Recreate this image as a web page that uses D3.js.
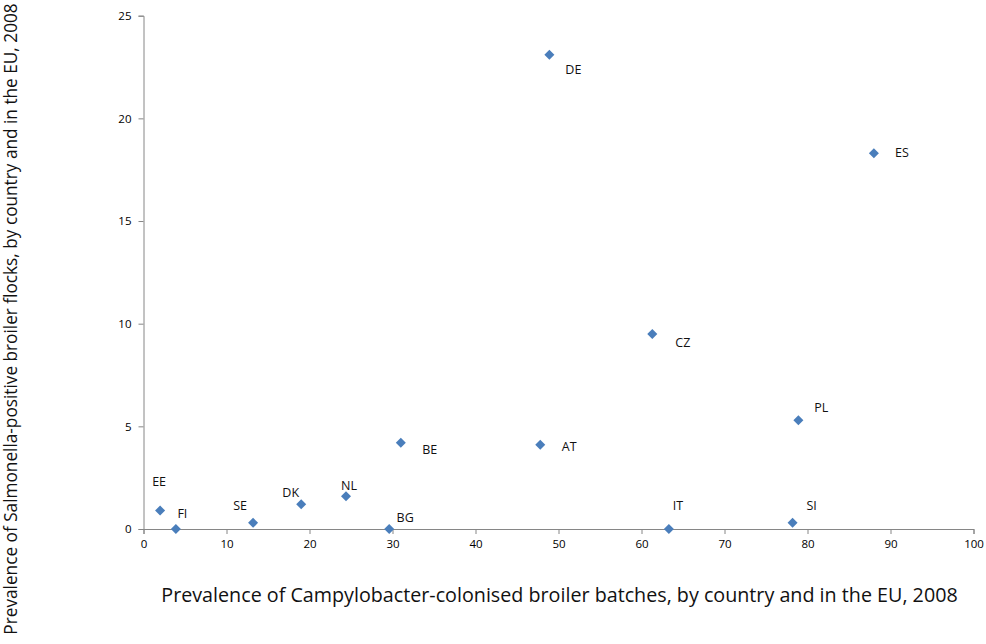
<!DOCTYPE html>
<html><head><meta charset="utf-8">
<script src="https://cdn.jsdelivr.net/npm/d3@7"></script>
<style>body{margin:0;background:#fff}</style>
</head><body>
<svg id="c" width="986" height="644"></svg>
<script>
const countries = ["EE","FI","SE","DK","NL","BG","BE","AT","DE","CZ","IT","SI","PL","ES"];
const campylobacter = [2.0,3.9,13.2,19.0,24.4,29.6,31.0,47.8,48.9,61.3,63.3,78.2,78.9,88.0];
const salmonella = [0.9,0.0,0.3,1.2,1.6,0.0,4.2,4.1,23.1,9.5,0.0,0.3,5.3,18.3];
const xTicks = [0,10,20,30,40,50,60,70,80,90,100];
const yTicks = [0,5,10,15,20,25];
const xTitle = "Prevalence of Campylobacter-colonised broiler batches, by country and in the EU, 2008";
const yTitle = "Prevalence of Salmonella-positive broiler flocks, by country and in the EU, 2008";
// label offsets (layout only): [dx of label centre, dy of label centre] from the marker
const labelOffsets = {EE:[-1,-29],FI:[6.5,-16],SE:[-13,-17],DK:[-10.5,-12],NL:[3,-11],BG:[16,-12],BE:[29,7],AT:[29,2],DE:[24,15],CZ:[30.5,9],IT:[9,-24],SI:[19,-17],PL:[23,-13],ES:[28,-1]};

const svg = d3.select("#c");
const font = "'Open Sans', sans-serif";
const x = d3.scaleLinear().domain([0,100]).range([143.5,973.5]);
const y = d3.scaleLinear().domain([0,25]).range([529,15.7]);
const axisColor = "#868686";

const gx = svg.append("g").attr("transform","translate(0,529)")
  .call(d3.axisBottom(x).tickValues(xTicks).tickSize(5).tickPadding(6).tickFormat(d3.format("d")));
const gy = svg.append("g").attr("transform","translate(143.5,0)")
  .call(d3.axisLeft(y).tickValues(yTicks).tickSize(5).tickPadding(7).tickFormat(d3.format("d")));
[gx,gy].forEach(g=>{
  g.select(".domain").attr("stroke",axisColor);
  g.selectAll(".tick line").attr("stroke",axisColor);
  g.selectAll(".tick text").attr("fill","#000").style("font-family",font).style("font-size","11.5px");
});

const diamond = d3.symbol().type(d3.symbolDiamond2).size(64);
svg.append("g").selectAll("path").data(countries).join("path")
  .attr("d",diamond)
  .attr("transform",(d,i)=>`translate(${x(campylobacter[i])},${y(salmonella[i])})`)
  .attr("fill","#4a7ebb");

svg.append("g").selectAll("text").data(countries).join("text")
  .attr("x",(d,i)=>x(campylobacter[i])+labelOffsets[d][0])
  .attr("y",(d,i)=>y(salmonella[i])+labelOffsets[d][1])
  .attr("text-anchor","middle").attr("dominant-baseline","central")
  .style("font-family",font).style("font-size","12.5px").attr("fill","#111")
  .text(d=>d);

function fitText(t, w){
  let fs = 17; t.style("font-size",fs+"px");
  const len = t.node().getComputedTextLength();
  t.style("font-size",(fs*w/len)+"px");
}
const xt = svg.append("text").attr("x",559.5).attr("y",594).attr("text-anchor","middle")
  .attr("dominant-baseline","central").style("font-family",font).attr("fill","#111").text(xTitle);
fitText(xt, 797);
const yt = svg.append("text").attr("transform","translate(10,319) rotate(-90)").attr("text-anchor","middle")
  .attr("dominant-baseline","central").style("font-family",font).attr("fill","#111").text(yTitle);
fitText(yt, 632);
</script>
</body></html>
